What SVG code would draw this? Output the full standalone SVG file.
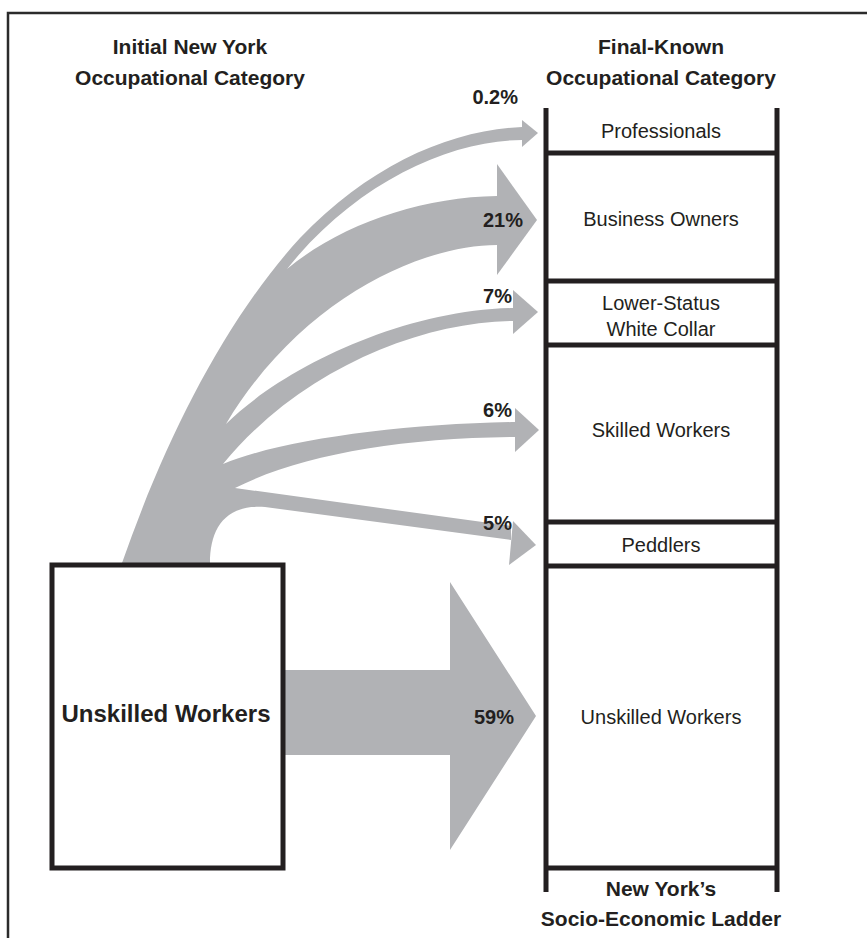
<svg xmlns="http://www.w3.org/2000/svg" width="867" height="938" viewBox="0 0 867 938">
<style>
.frame{stroke:#2b2b2b;stroke-width:2.5;fill:none}
.rail{stroke:#231f20;stroke-width:5;fill:none}
.flow{fill:#b1b2b5;stroke:none}
.title{font-family:"Liberation Sans",Arial,sans-serif;font-weight:bold;font-size:21px;fill:#231f20;text-anchor:middle}
.lbl{font-family:"Liberation Sans",Arial,sans-serif;font-size:20px;fill:#231f20;text-anchor:middle}
.pct{font-family:"Liberation Sans",Arial,sans-serif;font-weight:bold;font-size:20px;fill:#231f20;text-anchor:end}
.box{fill:#fff;stroke:#231f20;stroke-width:5}
</style>
<rect width="867" height="938" fill="#fff"/>
<g id="frame">
<path class="frame" d="M8,938 V13 H867"/>
</g>
<g id="titles">
<text class="title" x="190" y="54">Initial New York</text>
<text class="title" x="190" y="85">Occupational Category</text>
<text class="title" x="661" y="54">Final-Known</text>
<text class="title" x="661" y="85">Occupational Category</text>
</g>
<g id="connectors">
<path class="flow" d="M122,563 C165,440 225,320 300,238 C370,165 450,130 522,127 L522,140 C450,140 355,183 287,269 C340,225 420,197 497,196 L497,245 C420,245 300,300 226,424 C280,370 400,310 513,308 L513,321 C420,322 300,370 223,464 C280,440 400,424 515,422 L515,437 C400,438 300,455 235,488 L511,526 L511,540 L265,507 C224,504 210,530 210,563 Z"/>
<polygon class="flow" points="522,120 538,133 522,147"/>
<polygon class="flow" points="497,164 537,220 497,275"/>
<polygon class="flow" points="513,290 538,312 513,334"/>
<polygon class="flow" points="515,408 539,430 515,452"/>
<polygon class="flow" points="513,521 536,545 509,565"/>
<polygon class="flow" points="285,670 450,670 450,582 536,716 450,850 450,755 285,755"/>
</g>
<g id="pcts">
<text class="pct" x="518" y="104">0.2%</text>
<text class="pct" x="523" y="227">21%</text>
<text class="pct" x="512" y="303">7%</text>
<text class="pct" x="512" y="417">6%</text>
<text class="pct" x="512" y="530">5%</text>
<text class="pct" x="514" y="724">59%</text>
</g>
<g id="source">
<rect class="box" x="52" y="565" width="231" height="303"/>
<text class="title" x="166" y="722" style="font-size:24px">Unskilled Workers</text>
</g>
<g id="ladder">
<path class="rail" d="M546,108 V892 M777,108 V892 M546,153 H777 M546,281 H777 M546,345 H777 M546,522 H777 M546,566 H777 M546,868 H777"/>
<text class="lbl" x="661" y="138">Professionals</text>
<text class="lbl" x="661" y="226">Business Owners</text>
<text class="lbl" x="661" y="310">Lower-Status</text>
<text class="lbl" x="661" y="336">White Collar</text>
<text class="lbl" x="661" y="437">Skilled Workers</text>
<text class="lbl" x="661" y="552">Peddlers</text>
<text class="lbl" x="661" y="724">Unskilled Workers</text>
<text class="title" x="661" y="896">New York’s</text>
<text class="title" x="661" y="926">Socio-Economic Ladder</text>
</g>
</svg>
